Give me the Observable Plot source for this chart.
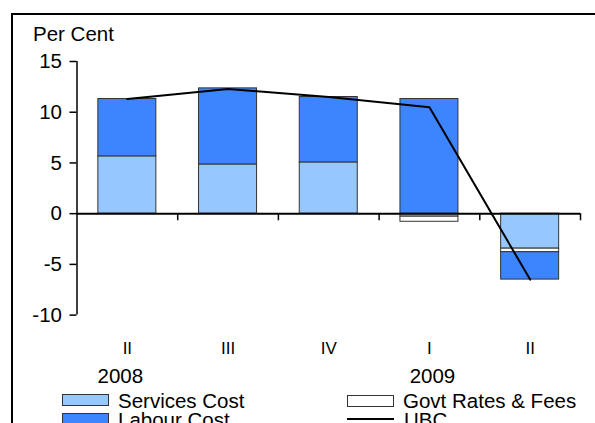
<!DOCTYPE html>
<html>
<head>
<meta charset="utf-8">
<script src="https://cdn.jsdelivr.net/npm/d3@7"></script>
<script src="https://cdn.jsdelivr.net/npm/@observablehq/plot@0.6"></script>
<style>
  html, body { margin: 0; padding: 0; background: #fff; }
  body { width: 595px; height: 423px; overflow: hidden; position: relative;
         font-family: "Liberation Sans", Arial, sans-serif; }
  #frame { position: absolute; left: 11px; top: 13px; width: 700px; height: 500px;
           border-left: 2px solid #000; border-top: 2px solid #000; pointer-events: none; }
  #ylabel { position: absolute; left: 33px; top: 24px; font-size: 20.5px; line-height: 20.5px; color: #000; }
  #chart { position: absolute; left: 0; top: 0; }
  .lg { position: absolute; font-size: 20.5px; line-height: 20.5px; color: #000; white-space: nowrap; }
  .sw { position: absolute; box-sizing: border-box; width: 47px; height: 12px; border: 1px solid #333; }
  .ln { position: absolute; width: 47px; height: 2px; background: #000; }
</style>
</head>
<body>
<div id="chart"></div>
<div id="ylabel">Per Cent</div>
<div id="legend"></div>
<div id="frame"></div>
<script>
// ---- data ----
const quarters = ["II", "III", "IV", "I", "II"];
const yearLabels = ["2008", "", "", "2009", ""];
const seriesNames = ["Services Cost", "Govt Rates & Fees", "Labour Cost"];
const servicesCost = [5.65, 4.85, 5.05, -0.3, -3.45];
const govtRates    = [0, 0, 0, -0.5, -0.35];
const labourCost   = [5.65, 7.5, 6.45, 11.3, -2.7];
const ubc          = [11.3, 12.3, 11.5, 10.5, -6.5];
const yTicks = [-10, -5, 0, 5, 10, 15];

const colors = ["#96C7FE", "#FFFFFF", "#3D85FE"];
const seriesValues = [servicesCost, govtRates, labourCost];

// build stacked rows (positive up, negative down, in series order)
const rows = [];
quarters.forEach((q, i) => {
  let pos = 0, neg = 0;
  seriesValues.forEach((vals, s) => {
    const v = vals[i];
    if (v === 0) return;
    let y1, y2;
    if (v > 0) { y1 = pos; y2 = pos + v; pos = y2; }
    else { y1 = neg; y2 = neg + v; neg = y2; }
    rows.push({i, series: seriesNames[s], y1, y2});
  });
});
const ubcRows = ubc.map((v, i) => ({i, v}));
const boundaries = quarters.map((q, i) => i + 0.5);

const hw = 0.288;
const H = 388;
const chart = Plot.plot({
  width: 595,
  height: H,
  marginLeft: 76.5,
  marginRight: 15,
  marginTop: 61,
  marginBottom: H - 314.6,
  x: {domain: [-0.5, quarters.length - 0.5], axis: null},
  y: {domain: [-10, 15], axis: null},
  color: {domain: seriesNames, range: colors},
  style: {fontFamily: "'Liberation Sans', Arial, sans-serif", background: "transparent", color: "#000"},
  marks: [
    Plot.axisY({ticks: yTicks, tickSize: 7, tickPadding: 8, fontSize: 20.5, label: null,
                tickFormat: d => String(d), strokeWidth: 1.5}),
    Plot.rect(rows, {x1: d => d.i - hw, x2: d => d.i + hw, y1: "y1", y2: "y2",
                     fill: "series", stroke: "#333", strokeWidth: 1}),
    Plot.ruleY([0], {stroke: "#000", strokeWidth: 2}),
    Plot.ruleX([-0.5], {y1: -10, y2: 15, stroke: "#000", strokeWidth: 1.5}),
    Plot.ruleX(boundaries, {y1: 0, y2: -0.7, stroke: "#000", strokeWidth: 1.5}),
    Plot.lineY(ubcRows, {x: "i", y: "v", stroke: "#000", strokeWidth: 2}),
    Plot.axisX({ticks: quarters.map((q, i) => i), tickFormat: i => quarters[i], label: null,
                tickSize: 0, tickPadding: 26.5, fontSize: 17}),
    Plot.axisX({ticks: [0], tickFormat: i => yearLabels[i], label: null, dx: -7,
                tickSize: 0, tickPadding: 53, fontSize: 20.5}),
    Plot.axisX({ticks: [3], tickFormat: i => yearLabels[i], label: null, dx: 3,
                tickSize: 0, tickPadding: 53, fontSize: 20.5})
  ]
});
document.getElementById("chart").appendChild(chart);

// ---- legend ----
const legendItems = [
  {label: seriesNames[0], type: "sw", color: colors[0], sx: 62, sy: 394, tx: 118, ty: 390.6},
  {label: seriesNames[1], type: "sw", color: colors[1], sx: 347, sy: 395, tx: 403, ty: 390.6},
  {label: seriesNames[2], type: "sw", color: colors[2], sx: 62, sy: 413, tx: 118, ty: 409.9},
  {label: "UBC", type: "ln", color: "#000", sx: 347, sy: 417.5, tx: 404, ty: 409.9}
];
const lg = document.getElementById("legend");
legendItems.forEach(it => {
  const s = document.createElement("div");
  s.className = it.type;
  s.style.left = it.sx + "px";
  s.style.top = it.sy + "px";
  s.style.background = it.color;
  lg.appendChild(s);
  const t = document.createElement("div");
  t.className = "lg";
  t.style.left = it.tx + "px";
  t.style.top = it.ty + "px";
  t.textContent = it.label;
  lg.appendChild(t);
});
</script>
</body>
</html>
